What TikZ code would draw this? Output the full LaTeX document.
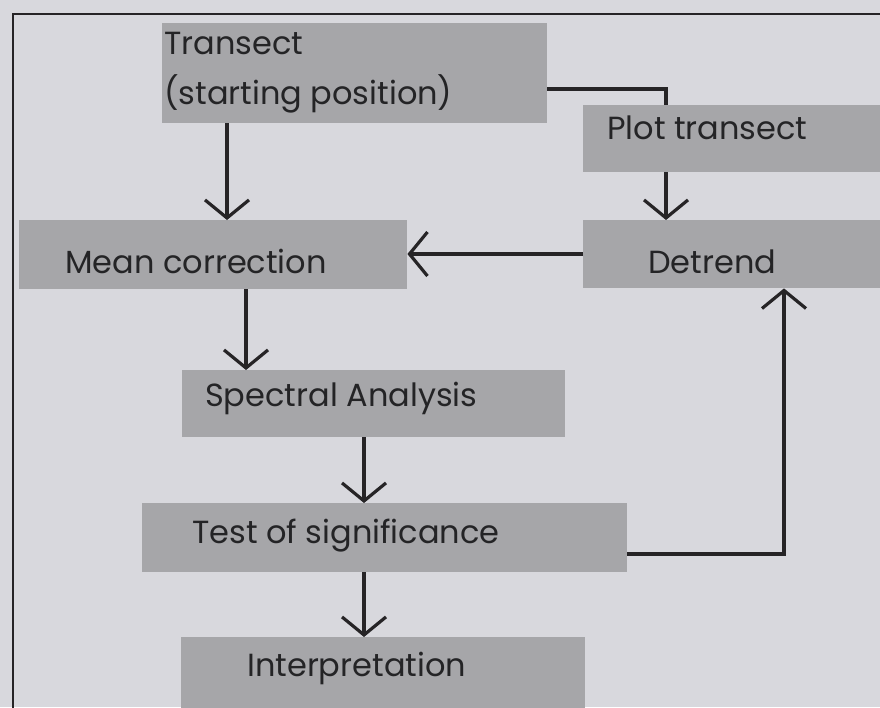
\documentclass[tikz,border=0pt]{standalone}
\usepackage{fontspec}
\setmainfont{Poppins}
\usetikzlibrary{arrows.meta}
\definecolor{bgc}{RGB}{216,216,221}
\definecolor{boxc}{RGB}{166,166,169}
\definecolor{inkc}{RGB}{38,36,38}
\definecolor{txtc}{RGB}{36,36,38}
\tikzset{
  boxnode/.style={rectangle,fill=boxc,draw=none,inner sep=0pt,anchor=north west},
  lbl/.style={font=\fontsize{32}{34}\selectfont,text=txtc,inner sep=0pt,anchor=base west},
  link/.style={draw=inkc,line width=3.2pt},
  arr/.style={link,-{Straight Barb[length=18pt,width=44pt,line width=3.2pt]}},
  frameline/.style={draw=inkc,line width=2.6pt}
}
\begin{document}
\begin{tikzpicture}[x=1pt,y=-1pt]
\fill[bgc] (0,0) rectangle (880,707);
\useasboundingbox (0,0) rectangle (880,707);
\draw[frameline] (882,14) -- (13,14) -- (13,709);
% boxes
\node[boxnode,minimum width=385pt,minimum height=100pt] (T) at (162,23) {};
\node[boxnode,minimum width=300pt,minimum height=67pt] (P) at (583,105) {};
\node[boxnode,minimum width=300pt,minimum height=68pt] (D) at (583,220) {};
\node[boxnode,minimum width=388pt,minimum height=69pt] (M) at (19,220) {};
\node[boxnode,minimum width=383pt,minimum height=67pt] (S) at (182,370) {};
\node[boxnode,minimum width=485pt,minimum height=69pt] (Q) at (142,503) {};
\node[boxnode,minimum width=404pt,minimum height=72pt] (I) at (181,637) {};
% labels
\node[lbl] (t1) at (164,54) {Transect};
\node[lbl] (t2) at (164,104) {(starting position)};
\node[lbl] (tp) at (607,139) {Plot transect};
\node[lbl] (td) at (648,273) {Detrend};
\node[lbl] (tm) at (65,273) {Mean correction};
\node[lbl] (ts) at (205,406) {Spectral Analysis};
\node[lbl] (tq) at (192,543) {Test of significance};
\node[lbl] (ti) at (247,676) {Interpretation};
% connector x/y guides
\coordinate (xa) at (227,0);
\coordinate (xb) at (666,89);
\coordinate (xc) at (246,0);
\coordinate (xd) at (364,0);
\coordinate (yd) at (0,254);
\coordinate (xe) at (784,554);
% connectors
\draw[arr] (T.south -| xa) -- (M.north -| xa);
\draw[link] (T.east |- xb) -- (xb) -- (P.north -| xb);
\draw[arr] (P.south -| xb) -- (D.north -| xb);
\draw[arr] (D.west |- yd) -- (M.east |- yd);
\draw[arr] (M.south -| xc) -- (S.north -| xc);
\draw[arr] (S.south -| xd) -- (Q.north -| xd);
\draw[arr] (Q.east |- xe) -- (xe) -- (D.south -| xe);
\draw[arr] (Q.south -| xd) -- (I.north -| xd);
\end{tikzpicture}
\end{document}
